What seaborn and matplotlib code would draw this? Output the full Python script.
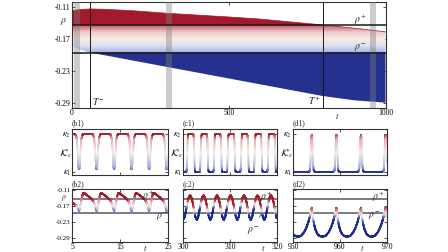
import numpy as np
import matplotlib
matplotlib.use("Agg")
import matplotlib.pyplot as plt
import seaborn as sns
from matplotlib.collections import LineCollection
from matplotlib.colors import LinearSegmentedColormap, Normalize
from matplotlib.patches import Polygon

# ---------------- data ----------------
RHO_PLUS = -0.145
RHO_MINUS = -0.196
T_MINUS = 58
T_PLUS = 800

rho_ticks = [-0.11, -0.17, -0.23, -0.29]
rho_tick_labels = ["-0.11", "-0.17", "-0.23", "-0.29"]

# (a) envelope of rho(t) over the whole run
env_t = [0, 30, 58, 100, 150, 200, 300, 400, 500, 600, 700, 800, 900, 1000]
env_upper = [-0.117, -0.1148, -0.1140, -0.1145, -0.116, -0.1175, -0.1220, -0.1255,
             -0.1290, -0.1330, -0.1385, -0.1440, -0.1500, -0.1570]
env_lower = [-0.184, -0.191, -0.196, -0.2005, -0.206, -0.2115, -0.2225, -0.2335,
             -0.2445, -0.2555, -0.2665, -0.2775, -0.2855, -0.2900]

# zoom windows shown in (b), (c), (d)
windows = [(5, 25), (300, 320), (950, 970)]

# (b1) K_eps, 0 = kappa_1, 1 = kappa_2
b1_t = [5.00,
        5.57, 5.77, 5.97, 6.12, 6.27, 6.37, 6.47, 6.57, 6.67, 6.82, 6.97, 7.17, 7.37,
        9.22, 9.42, 9.62, 9.77, 9.92, 10.02, 10.12, 10.22, 10.32, 10.47, 10.62, 10.82, 11.02,
        12.87, 13.07, 13.27, 13.42, 13.57, 13.67, 13.77, 13.87, 13.97, 14.12, 14.27, 14.47, 14.67,
        16.52, 16.72, 16.92, 17.07, 17.22, 17.32, 17.42, 17.52, 17.62, 17.77, 17.92, 18.12, 18.32,
        20.17, 20.37, 20.57, 20.72, 20.87, 20.97, 21.07, 21.17, 21.27, 21.42, 21.57, 21.77, 21.97,
        23.82, 24.02, 24.22, 24.37, 24.52, 24.62, 24.72, 24.82, 24.92, 25.00]
b1_k = [0.99,
        1.0, 0.97, 0.88, 0.65, 0.30, 0.10, 0.06, 0.10, 0.30, 0.65, 0.88, 0.97, 1.0,
        1.0, 0.97, 0.88, 0.65, 0.30, 0.10, 0.06, 0.10, 0.30, 0.65, 0.88, 0.97, 1.0,
        1.0, 0.97, 0.88, 0.65, 0.30, 0.10, 0.06, 0.10, 0.30, 0.65, 0.88, 0.97, 1.0,
        1.0, 0.97, 0.88, 0.65, 0.30, 0.10, 0.06, 0.10, 0.30, 0.65, 0.88, 0.97, 1.0,
        1.0, 0.97, 0.88, 0.65, 0.30, 0.10, 0.06, 0.10, 0.30, 0.65, 0.88, 0.97, 1.0,
        1.0, 0.97, 0.88, 0.65, 0.30, 0.10, 0.06, 0.10, 0.30, 0.55]

# (b2) rho(t)
b2_t = [5.00, 5.50, 6.00, 6.25,
        6.47, 6.67, 6.87, 7.07, 7.27, 7.42, 7.67, 8.17, 8.67, 9.17, 9.47, 9.72, 9.92,
        10.12, 10.32, 10.52, 10.72, 10.92, 11.07, 11.32, 11.82, 12.32, 12.82, 13.12, 13.37, 13.57,
        13.77, 13.97, 14.17, 14.37, 14.57, 14.72, 14.97, 15.47, 15.97, 16.47, 16.77, 17.02, 17.22,
        17.42, 17.62, 17.82, 18.02, 18.22, 18.37, 18.62, 19.12, 19.62, 20.12, 20.42, 20.67, 20.87,
        21.07, 21.27, 21.47, 21.67, 21.87, 22.02, 22.27, 22.77, 23.27, 23.77, 24.07, 24.32, 24.52,
        24.72, 24.92, 25.00]
b2_rho = [-0.155, -0.163, -0.172, -0.180,
          -0.188, -0.176, -0.157, -0.137, -0.124, -0.121, -0.123, -0.130, -0.137, -0.145, -0.152, -0.164, -0.178,
          -0.188, -0.176, -0.157, -0.137, -0.124, -0.121, -0.123, -0.130, -0.137, -0.145, -0.152, -0.164, -0.178,
          -0.188, -0.176, -0.157, -0.137, -0.124, -0.121, -0.123, -0.130, -0.137, -0.145, -0.152, -0.164, -0.178,
          -0.188, -0.176, -0.157, -0.137, -0.124, -0.121, -0.123, -0.130, -0.137, -0.145, -0.152, -0.164, -0.178,
          -0.188, -0.176, -0.157, -0.137, -0.124, -0.121, -0.123, -0.130, -0.137, -0.145, -0.152, -0.164, -0.178,
          -0.188, -0.176, -0.170]

# (c1) K_eps
c1_t = [300.00,
        300.70, 300.80, 300.90, 301.00, 301.10, 301.25, 302.05, 302.20, 302.30, 302.40, 302.50, 302.60,
        303.57, 303.67, 303.77, 303.87, 303.97, 304.12, 304.92, 305.07, 305.17, 305.27, 305.37, 305.47,
        306.44, 306.54, 306.64, 306.74, 306.84, 306.99, 307.79, 307.94, 308.04, 308.14, 308.24, 308.34,
        309.31, 309.41, 309.51, 309.61, 309.71, 309.86, 310.66, 310.81, 310.91, 311.01, 311.11, 311.21,
        312.18, 312.28, 312.38, 312.48, 312.58, 312.73, 313.53, 313.68, 313.78, 313.88, 313.98, 314.08,
        315.05, 315.15, 315.25, 315.35, 315.45, 315.60, 316.40, 316.55, 316.65, 316.75, 316.85, 316.95,
        317.92, 318.02, 318.12, 318.22, 318.32, 318.47, 319.27, 319.42, 319.52, 319.62, 319.72, 319.82,
        320.00]
c1_k = [0.0,
        0.0, 0.06, 0.5, 0.9, 0.98, 1.0, 1.0, 0.98, 0.9, 0.5, 0.06, 0.0,
        0.0, 0.06, 0.5, 0.9, 0.98, 1.0, 1.0, 0.98, 0.9, 0.5, 0.06, 0.0,
        0.0, 0.06, 0.5, 0.9, 0.98, 1.0, 1.0, 0.98, 0.9, 0.5, 0.06, 0.0,
        0.0, 0.06, 0.5, 0.9, 0.98, 1.0, 1.0, 0.98, 0.9, 0.5, 0.06, 0.0,
        0.0, 0.06, 0.5, 0.9, 0.98, 1.0, 1.0, 0.98, 0.9, 0.5, 0.06, 0.0,
        0.0, 0.06, 0.5, 0.9, 0.98, 1.0, 1.0, 0.98, 0.9, 0.5, 0.06, 0.0,
        0.0, 0.06, 0.5, 0.9, 0.98, 1.0, 1.0, 0.98, 0.9, 0.5, 0.06, 0.0,
        0.0]

# (c2) rho(t)
c2_t = [300.00,
        300.35, 300.60, 300.90, 301.20, 301.50, 301.80, 302.10, 302.40, 302.65, 302.935,
        303.22, 303.47, 303.77, 304.07, 304.37, 304.67, 304.97, 305.27, 305.52, 305.805,
        306.09, 306.34, 306.64, 306.94, 307.24, 307.54, 307.84, 308.14, 308.39, 308.675,
        308.96, 309.21, 309.51, 309.81, 310.11, 310.41, 310.71, 311.01, 311.26, 311.545,
        311.83, 312.08, 312.38, 312.68, 312.98, 313.28, 313.58, 313.88, 314.13, 314.415,
        314.70, 314.95, 315.25, 315.55, 315.85, 316.15, 316.45, 316.75, 317.00, 317.285,
        317.57, 317.82, 318.12, 318.42, 318.72, 319.02, 319.32, 319.62, 319.87, 320.00]
c2_rho = [-0.221,
          -0.212, -0.190, -0.160, -0.138, -0.130, -0.138, -0.160, -0.190, -0.212, -0.222,
          -0.212, -0.190, -0.160, -0.138, -0.130, -0.138, -0.160, -0.190, -0.212, -0.222,
          -0.212, -0.190, -0.160, -0.138, -0.130, -0.138, -0.160, -0.190, -0.212, -0.222,
          -0.212, -0.190, -0.160, -0.138, -0.130, -0.138, -0.160, -0.190, -0.212, -0.222,
          -0.212, -0.190, -0.160, -0.138, -0.130, -0.138, -0.160, -0.190, -0.212, -0.222,
          -0.212, -0.190, -0.160, -0.138, -0.130, -0.138, -0.160, -0.190, -0.212, -0.222,
          -0.212, -0.190, -0.160, -0.138, -0.130, -0.138, -0.160, -0.190, -0.212, -0.216]

# (d1) K_eps
d1_t = [950.00,
        953.40, 953.60, 953.70, 953.80, 953.90, 954.00, 954.10, 954.20, 954.30, 954.40, 954.60,
        958.63, 958.83, 958.93, 959.03, 959.13, 959.23, 959.33, 959.43, 959.53, 959.63, 959.83,
        963.86, 964.06, 964.16, 964.26, 964.36, 964.46, 964.56, 964.66, 964.76, 964.86, 965.06,
        969.09, 969.29, 969.39, 969.49, 969.59, 969.69, 969.79, 969.89, 970.00]
d1_k = [0.0,
        0.0, 0.03, 0.2, 0.55, 0.88, 0.98, 0.88, 0.55, 0.2, 0.03, 0.0,
        0.0, 0.03, 0.2, 0.55, 0.88, 0.98, 0.88, 0.55, 0.2, 0.03, 0.0,
        0.0, 0.03, 0.2, 0.55, 0.88, 0.98, 0.88, 0.55, 0.2, 0.03, 0.0,
        0.0, 0.03, 0.2, 0.55, 0.88, 0.98, 0.88, 0.55, 0.25]

# (d2) rho(t)
d2_t = [950.00, 950.50, 951.17, 951.77, 952.37, 952.87, 953.27, 953.57, 953.82,
        954.00, 954.25, 954.50, 954.80, 955.20, 955.70, 956.40, 957.00, 957.60, 958.10, 958.50, 958.80, 959.05,
        959.23, 959.48, 959.73, 960.03, 960.43, 960.93, 961.63, 962.23, 962.83, 963.33, 963.73, 964.03, 964.28,
        964.46, 964.71, 964.96, 965.26, 965.66, 966.16, 966.86, 967.46, 968.06, 968.56, 968.96, 969.26, 969.51,
        969.69, 969.90, 970.00]
d2_rho = [-0.275, -0.283, -0.285, -0.281, -0.268, -0.250, -0.230, -0.210, -0.190,
          -0.176, -0.215, -0.240, -0.260, -0.275, -0.283, -0.285, -0.281, -0.268, -0.250, -0.230, -0.210, -0.190,
          -0.176, -0.215, -0.240, -0.260, -0.275, -0.283, -0.285, -0.281, -0.268, -0.250, -0.230, -0.210, -0.190,
          -0.176, -0.215, -0.240, -0.260, -0.275, -0.283, -0.285, -0.281, -0.268, -0.250, -0.230, -0.210, -0.190,
          -0.176, -0.205, -0.212]

# ---------------- style ----------------
sns.set_theme(style="ticks")
plt.rcParams["font.family"] = ["Liberation Serif", "DejaVu Serif"]
plt.rcParams["mathtext.fontset"] = "stix"
plt.rcParams["axes.edgecolor"] = "#333333"
plt.rcParams["axes.linewidth"] = 0.8

RED = "#a31a2c"
BLUE = "#26318f"
k_cmap = LinearSegmentedColormap.from_list(
    "keps", [(0.0, "#1f2b8c"), (0.03, "#5d6cc2"), (0.15, "#aeb7e4"), (0.5, "#f4efe3"),
             (0.85, "#eab0b6"), (0.97, "#c0404f"), (1.0, RED)])
rho_cmap = LinearSegmentedColormap.from_list(
    "rho", ["#aab3e2", "#dde1f3", "#f4eedf", "#edc9cc", "#c25868"])
rho_cmap.set_over(RED)
rho_cmap.set_under(BLUE)


def gradient_line(ax, t, y, tk, k, lw=1.3):
    # colour follows K_eps; each straight piece is cut finer so the colour can change along it
    t = np.asarray(t, float)
    y = np.asarray(y, float)
    idx = np.arange(len(t))
    u = np.linspace(0, len(t) - 1, 30 * len(t))
    tf = np.interp(u, idx, t)
    yf = np.interp(u, idx, y)
    pts = np.column_stack([tf, yf]).reshape(-1, 1, 2)
    segs = np.concatenate([pts[:-1], pts[1:]], axis=1)
    lc = LineCollection(segs, cmap=k_cmap, norm=Normalize(0, 1), linewidths=lw,
                        capstyle="round", zorder=3)
    lc.set_array(np.interp(0.5 * (tf[:-1] + tf[1:]), tk, k))
    ax.add_collection(lc)


def frame_ticks(ax):
    ax.tick_params(direction="in", length=2.2, width=0.6, top=True, right=True,
                   labelsize=5.5, pad=1.0, colors="#333333", labelcolor="black")


W, H = 448, 252
fig = plt.figure(figsize=(W / 100, H / 100), dpi=100)

# ---------------- (a) ----------------
ax = fig.add_axes([72 / W, 1 - 108 / H, 313.5 / W, 106.5 / H])
ramp = np.linspace(-0.30, -0.10, 600)[:, None]
im = ax.imshow(ramp, extent=(0, 1000, -0.30, -0.10), origin="lower", aspect="auto",
               cmap=rho_cmap, norm=Normalize(RHO_MINUS, RHO_PLUS), interpolation="bilinear", zorder=1)
patch = Polygon(np.column_stack([env_t + env_t[::-1], env_upper + env_lower[::-1]]),
                closed=True, fc="none", ec="none")
ax.add_patch(patch)
im.set_clip_path(patch)
sns.lineplot(x=env_t, y=env_upper, ax=ax, color=RED, lw=0.5, zorder=2)
for a, b in windows:
    ax.axvspan(a, b, color="0.5", alpha=0.4, lw=0, zorder=3)
ax.axhline(RHO_PLUS, color="k", lw=1.1, zorder=4)
ax.axhline(RHO_MINUS, color="k", lw=1.1, zorder=4)
ax.axvline(T_MINUS, color="k", lw=0.7, zorder=4)
ax.axvline(T_PLUS, color="k", lw=0.7, zorder=4)
ax.text(T_MINUS + 7, -0.287, r"$T^{-}$", fontsize=7, ha="left", va="center")
ax.text(T_PLUS - 7, -0.287, r"$T^{+}$", fontsize=7, ha="right", va="center")
ax.text(920, -0.134, r"$\rho^{+}$", fontsize=7, ha="center", va="center")
ax.text(920, -0.187, r"$\rho^{-}$", fontsize=7, ha="center", va="center")
ax.set_xlim(0, 1000)
ax.set_ylim(-0.30, -0.10)
ax.set_xticks([0, 500, 1000])
ax.set_yticks(rho_ticks, labels=rho_tick_labels)
ax.set_xlabel("")
ax.set_ylabel("")
frame_ticks(ax)
ax.text(-0.027, 0.81, r"$\rho$", transform=ax.transAxes, fontsize=7, ha="center", va="center")
ax.text(845, -0.03, r"$t$", transform=ax.get_xaxis_transform(), fontsize=6.5, ha="center", va="top")

# ---------------- (b), (c), (d) ----------------
cols = [(72, 96), (183, 94), (293, 94)]
k_sets = [(b1_t, b1_k), (c1_t, c1_k), (d1_t, d1_k)]
rho_sets = [(b2_t, b2_rho), (c2_t, c2_rho), (d2_t, d2_rho)]
names = ["b", "c", "d"]
t_pos = [20.3, 317.0, 964.7]

for i, (x0, w) in enumerate(cols):
    lo, hi = windows[i]
    tk, kk = k_sets[i]

    # top row: K_eps
    ax1 = fig.add_axes([x0 / W, 1 - 175 / H, w / W, 46 / H])
    gradient_line(ax1, tk, kk, tk, kk, lw=1.2)
    ax1.set_xlim(lo, hi)
    ax1.set_ylim(-0.09, 1.13)
    ax1.set_xticks([(lo + hi) / 2], labels=[""])
    ax1.set_yticks([0, 1], labels=[r"$\kappa_1$", r"$\kappa_2$"])
    frame_ticks(ax1)
    ax1.tick_params(axis="y", labelsize=6)
    ax1.text(-7 / w, 0.46, r"$\mathcal{K}_\varepsilon$", transform=ax1.transAxes,
             fontsize=7, ha="center", va="center")
    ax1.text(0, 1.03, f"({names[i]}1)", transform=ax1.transAxes, fontsize=5.5, ha="left", va="bottom")

    # bottom row: rho
    ax2 = fig.add_axes([x0 / W, 1 - 242 / H, w / W, 53 / H])
    tr, rr = rho_sets[i]
    ax2.axhline(RHO_PLUS, color="0.35", lw=1.1, zorder=2)
    ax2.axhline(RHO_MINUS, color="0.35", lw=1.1, zorder=2)
    gradient_line(ax2, tr, rr, tk, kk, lw=1.3)
    ax2.set_xlim(lo, hi)
    ax2.set_ylim(-0.305, -0.106)
    ax2.set_xticks([lo, (lo + hi) // 2, hi])
    if i == 0:
        ax2.set_yticks(rho_ticks, labels=rho_tick_labels)
    else:
        ax2.set_yticks(rho_ticks, labels=[""] * 4)
    frame_ticks(ax2)
    if i == 0:
        ax2.tick_params(axis="y", labelsize=5)
        ax2.text(-8 / w, 0.83, r"$\rho$", transform=ax2.transAxes, fontsize=5.5, ha="center", va="center")
    ax2.text(t_pos[i], -0.02, r"$t$", transform=ax2.get_xaxis_transform(), fontsize=6.5, ha="center", va="top")
    ax2.text(0, 1.02, f"({names[i]}2)", transform=ax2.transAxes, fontsize=5.5, ha="left", va="bottom")

    if i == 0:
        ax2.text(20.9, -0.133, r"$\rho^{+}$", fontsize=7, ha="center", va="center", zorder=5)
        ax2.text(23.8, -0.211, r"$\rho^{-}$", fontsize=7, ha="center", va="center", zorder=5)
    elif i == 1:
        ax2.text(317.7, -0.134, r"$\rho^{+}$", fontsize=7, ha="center", va="center", zorder=5)
        ax2.annotate(r"$\rho^{-}$", xy=(316.7, RHO_MINUS), xytext=(314.9, -0.262), fontsize=7,
                     ha="center", va="center", zorder=5,
                     arrowprops=dict(arrowstyle="-", color="0.3", lw=0.5, shrinkA=3, shrinkB=0))
    else:
        ax2.text(968.2, -0.136, r"$\rho^{+}$", fontsize=7, ha="center", va="center", zorder=5)
        ax2.text(967.3, -0.209, r"$\rho^{-}$", fontsize=7, ha="center", va="center", zorder=5)

fig.savefig("out.png", dpi=100)
